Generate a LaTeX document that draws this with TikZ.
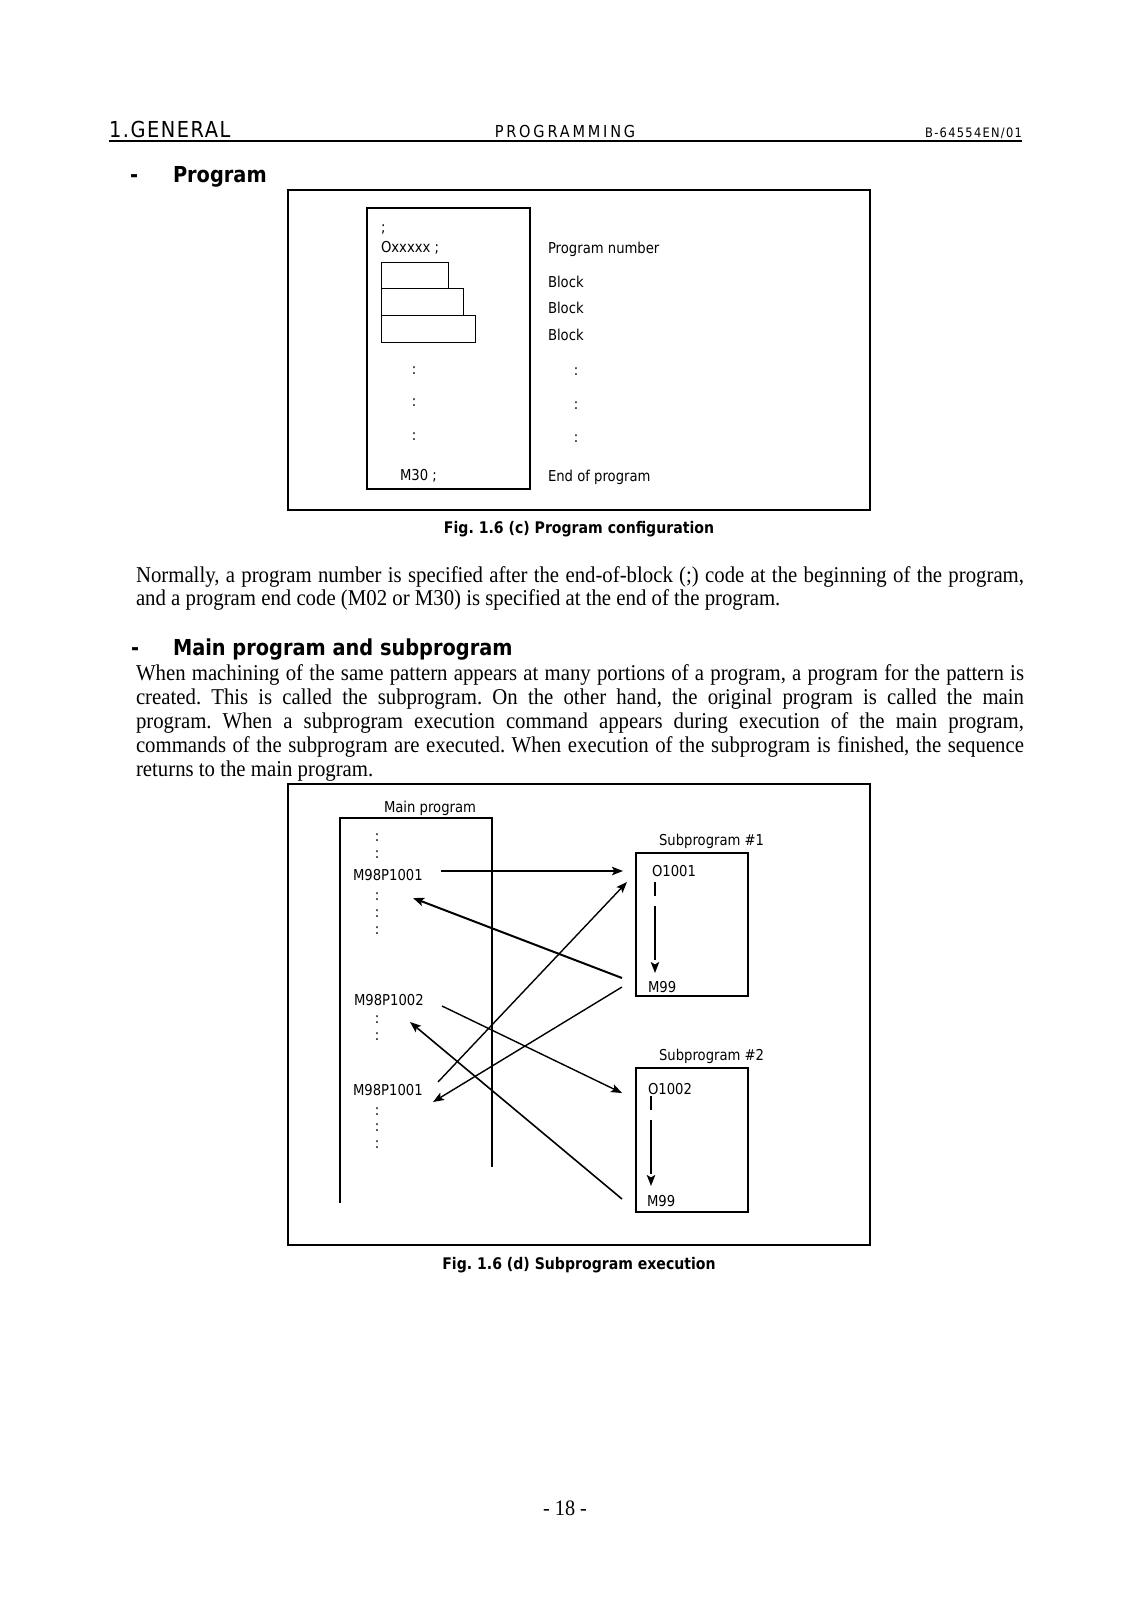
\documentclass[tikz,border=0pt]{standalone}
\usepackage{fontspec}
\setmainfont{Liberation Serif}
\newfontfamily\bodyf[FakeStretch=0.92]{Liberation Serif}
\newfontfamily\dg[FakeStretch=0.88]{DejaVu Sans}
\newfontfamily\hA[FakeStretch=0.88,LetterSpace=7]{DejaVu Sans}
\newfontfamily\hB[FakeStretch=0.88,LetterSpace=17]{DejaVu Sans}
\newfontfamily\hC[FakeStretch=0.88,LetterSpace=10]{DejaVu Sans}
\usetikzlibrary{arrows.meta}
\frenchspacing
\tikzset{
  every node/.style={inner sep=0pt,outer sep=0pt},
  lbl/.style={font=\dg\fontsize{7.5}{9}\selectfont, anchor=base west},
  dots/.style={font=\dg\fontsize{7.5}{9}\selectfont, anchor=center},
  body/.style={font=\bodyf\fontsize{11.3}{12}\selectfont, anchor=base west},
  head/.style={font=\dg\bfseries\fontsize{11}{13}\selectfont, anchor=base west},
  figcap/.style={font=\dg\bfseries\fontsize{8}{10}\selectfont, anchor=base},
  frame/.style={draw, line width=0.6pt},
  thinbox/.style={draw, line width=0.5pt},
  progline/.style={line width=1pt},
  tip/.style={-{Stealth[length=5.5pt,width=4.2pt,inset=1.2pt]}},
  flow/.style={tip, line width=0.6pt, dash pattern=on 27pt off 5pt, dash phase=20pt},
}
\begin{document}
\begin{tikzpicture}[x=0.5pt,y=-0.5pt]
\useasboundingbox[fill=white] (0,0) rectangle (1132,1600);

% ---------- header ----------
\node[font=\hA\fontsize{11}{13}\selectfont, anchor=base west] (h1) at (109,138) {1.GENERAL};
\node[font=\hB\fontsize{8.25}{10}\selectfont, anchor=base] (h2) at (565,137) {PROGRAMMING};
\node[font=\hC\fontsize{6.5}{8}\selectfont, anchor=base east] (h3) at (1022,137) {B-64554EN/01};
\coordinate (rl) at (109,141);
\coordinate (rr) at (1022,141);
\draw[line width=0.75pt] (rl) -- (rr);

% ---------- Program heading ----------
\node[head] (d1) at (130,183) {-};
\node[head] (t1) at (173,183) {Program};

% ---------- Fig 1.6 (c) ----------
\node[frame, minimum width=291pt, minimum height=160pt, anchor=north west] (f1) at (288,190) {};
\node[frame, minimum width=81.5pt, minimum height=140.5pt, anchor=north west] (ib) at (367,208) {};
\node[lbl] (semi) at (381,232) {;};
\node[lbl] (ox) at (381,252) {Oxxxxx ;};
\node[thinbox, minimum width=33.5pt, minimum height=13pt, anchor=north west] (b1) at (381,262) {};
\node[thinbox, minimum width=41pt, minimum height=13.5pt, anchor=north west] (b2) at (381,288) {};
\node[thinbox, minimum width=47pt, minimum height=13.5pt, anchor=north west] (b3) at (381,315) {};
\node[dots] (lc1) at (414,371) {:};
\node[dots] (lc2) at (414,403) {:};
\node[dots] (lc3) at (414,437) {:};
\node[lbl] (m30) at (400,480) {M30 ;};
\node[lbl] (pn) at (548,253) {Program number};
\node[lbl] (bk1) at (548,287) {Block};
\node[lbl] (bk2) at (548,313) {Block};
\node[lbl] (bk3) at (548,340) {Block};
\node[dots] (rc1) at (576,372) {:};
\node[dots] (rc2) at (576,406) {:};
\node[dots] (rc3) at (576,439) {:};
\node[lbl] (eop) at (548,481) {End of program};
\node[figcap] (c1) at (579,533) {Fig. 1.6 (c) Program configuration};

% ---------- paragraph 1 ----------
\node[body] (p1a) at (136,582) {\hbox to 444pt{Normally, a program number is specified after the end-of-block (;) code at the beginning of the program,}};
\node[body] (p1b) at (136,605) {and a program end code (M02 or M30) is specified at the end of the program.};

% ---------- Main program heading ----------
\node[head] (d2) at (131,655) {-};
\node[head] (t2) at (173,655) {Main program and subprogram};

% ---------- paragraph 2 ----------
\node[body] (p2a) at (136,680) {\hbox to 444pt{When machining of the same pattern appears at many portions of a program, a program for the pattern is}};
\node[body] (p2b) at (136,704) {\hbox to 444pt{created. This is called the subprogram. On the other hand, the original program is called the main}};
\node[body] (p2c) at (136,728) {\hbox to 444pt{program. When a subprogram execution command appears during execution of the main program,}};
\node[body] (p2d) at (136,752) {\hbox to 444pt{commands of the subprogram are executed. When execution of the subprogram is finished, the sequence}};
\node[body] (p2e) at (136,776) {returns to the main program.};

% ---------- Fig 1.6 (d) ----------
\node[frame, minimum width=291pt, minimum height=230.5pt, anchor=north west] (f2) at (288,784) {};
\node[lbl] (mp) at (384,812) {Main program};
\coordinate (mpbl) at (340,1203);
\coordinate (mptl) at (340,818);
\coordinate (mptr) at (492,818);
\coordinate (mpbr) at (492,1167);
\draw[progline] (mpbl) -- (mptl) -- (mptr) -- (mpbr);

\node[dots] (k1) at (377,838) {:};
\node[dots] (k2) at (377,855) {:};
\node[lbl] (call1) at (353,880) {M98P1001};
\node[dots] (k3) at (377,897) {:};
\node[dots] (k4) at (377,914) {:};
\node[dots] (k5) at (377,931) {:};
\node[lbl] (call2) at (354,1005) {M98P1002};
\node[dots] (k6) at (377,1020) {:};
\node[dots] (k7) at (377,1037) {:};
\node[lbl] (call3) at (353,1095) {M98P1001};
\node[dots] (k8) at (377,1112) {:};
\node[dots] (k9) at (377,1128) {:};
\node[dots] (k10) at (377,1145) {:};

\node[lbl] (s1t) at (659,845) {Subprogram \#1};
\node[frame, minimum width=56pt, minimum height=71.5pt, anchor=north west] (s1) at (636,853) {};
\node[lbl] (o1) at (652,876) {O1001};
\node[lbl] (r1) at (648,992) {M99};
\coordinate (s1a) at (655,882);
\coordinate (s1b) at (655,973);
\draw[flow] (s1a) -- (s1b);

\node[lbl] (s2t) at (659,1060) {Subprogram \#2};
\node[frame, minimum width=56pt, minimum height=72pt, anchor=north west] (s2) at (636,1068) {};
\node[lbl] (o2) at (648,1094) {O1002};
\node[lbl] (r2) at (647,1206) {M99};
\coordinate (s2a) at (651,1096);
\coordinate (s2b) at (651,1186);
\draw[flow, line width=0.8pt] (s2a) -- (s2b);

% arrow end points
\coordinate (a1s) at (441,871);
\coordinate (a1e) at (623,871);
\coordinate (a2s) at (622,978);
\coordinate (a2e) at (413,898);
\coordinate (a3s) at (438,1082);
\coordinate (a3e) at (627,882);
\coordinate (a4s) at (622,987);
\coordinate (a4e) at (433,1102);
\coordinate (a5s) at (442,1006);
\coordinate (a5e) at (622,1093);
\coordinate (a6s) at (622,1199);
\coordinate (a6e) at (410,1022);
\draw[tip, line width=1pt] (a1s) -- (a1e);
\draw[tip, line width=1pt] (a2s) -- (a2e);
\draw[tip, line width=0.7pt] (a3s) -- (a3e);
\draw[tip, line width=0.7pt] (a4s) -- (a4e);
\draw[tip, line width=0.7pt] (a5s) -- (a5e);
\draw[tip, line width=0.8pt] (a6s) -- (a6e);

\node[figcap] (c2) at (579,1269) {Fig. 1.6 (d) Subprogram execution};

% ---------- page number ----------
\node[font=\bodyf\fontsize{11}{12}\selectfont, anchor=base] (pg) at (565,1515) {- 18 -};
\end{tikzpicture}
\end{document}
